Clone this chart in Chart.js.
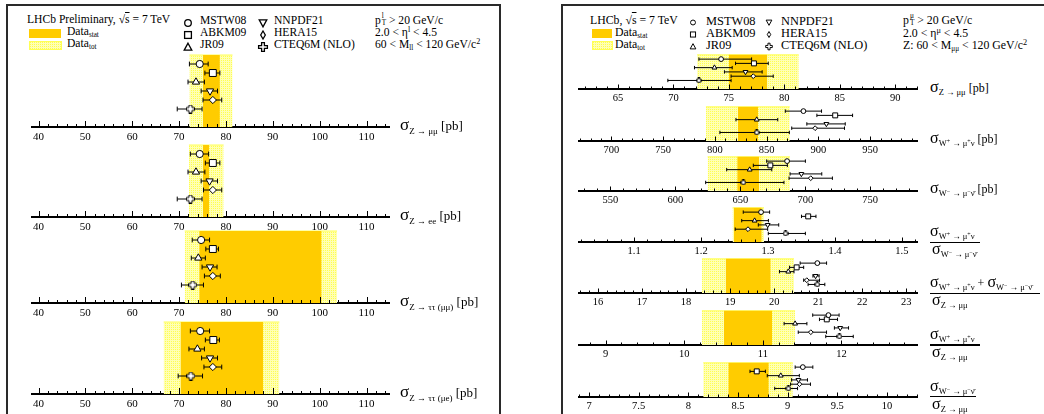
<!DOCTYPE html>
<html>
<head>
<meta charset="utf-8">
<script src="https://cdn.jsdelivr.net/npm/chart.js@4.4.1/dist/chart.umd.min.js"></script>
<style>
  body { margin: 0; background: #fff; }
  #page { position: relative; width: 1044px; height: 414px; overflow: hidden;
          font-family: "Liberation Serif", "DejaVu Serif", serif; color: #000; }
  .frame { position: absolute; box-sizing: border-box; border: 2px solid #2a2a2a; }
  .t { position: absolute; white-space: nowrap; line-height: 14px; }
  .sb { font-size: 0.62em; position: relative; top: 0.3em; }
  .sp { font-size: 0.7em; position: relative; top: -0.45em; }
  .ss { display: inline-block; position: relative; width: 0.45em; height: 1em; }
  .ss .u { position: absolute; left: 1px; top: -0.35em; font-size: 0.62em; }
  .ss .d { position: absolute; left: 1px; top: 0.55em; font-size: 0.62em; }
  .ov { text-decoration: overline; }
  .box { position: absolute; }
  .mk { position: absolute; }
  .lab { position: absolute; white-space: nowrap; }
  .lab.L { font-size: 13px; line-height: 18px; }
  .lab.L .sg { font-size: 17px; }
  .lab.L .sb { font-size: 9px; top: 4px; }
  .lab.R { font-size: 12px; line-height: 16px; }
  .lab.R .sg { font-size: 16px; }
  .lab .sb { font-size: 8.5px; position: relative; top: 3px; }
  .lab .sb .sp { font-size: 6px; top: -3px; }
  .fl { position: absolute; height: 1.5px; background: #000; }
</style>
</head>
<body>
<div id="page">
  <div class="frame" style="left:6px;top:4px;width:495px;height:500px"></div>
  <div class="frame" style="left:561px;top:4px;width:600px;height:500px"></div>

  <!-- left header -->
  <div class="t" style="left:27px;top:13px;font-size:11.6px">LHCb Preliminary, √<span class="ov">s</span> = 7 TeV</div>
  <div class="box" style="left:29px;top:29px;width:32px;height:9px;background:#ffcc00"></div>
  <div class="box" id="totL" style="left:29px;top:41px;width:31px;height:7px;border:1px solid #ffff55"></div>
  <div class="t" style="left:67px;top:25px;font-size:11.6px">Data<span class="sb">stat</span></div>
  <div class="t" style="left:67px;top:37px;font-size:11.6px">Data<span class="sb">tot</span></div>
  <div class="t" style="left:200px;top:14px;font-size:11.6px">MSTW08</div>
  <div class="t" style="left:200px;top:26px;font-size:11.6px">ABKM09</div>
  <div class="t" style="left:200px;top:38px;font-size:11.6px">JR09</div>
  <div class="t" style="left:274px;top:14px;font-size:11.6px">NNPDF21</div>
  <div class="t" style="left:274px;top:26px;font-size:11.6px">HERA15</div>
  <div class="t" style="left:274px;top:38px;font-size:11.6px">CTEQ6M (NLO)</div>
  <div class="t" style="left:375px;top:12px;font-size:11.6px">p<span class="ss"><span class="u">l</span><span class="d">T</span></span> &gt; 20 GeV/c</div>
  <div class="t" style="left:375px;top:26px;font-size:11.6px">2.0 &lt; η<span class="sp">l</span> &lt; 4.5</div>
  <div class="t" style="left:375px;top:38px;font-size:11.6px">60 &lt; M<span class="sb">ll</span> &lt; 120 GeV/c<span class="sp">2</span></div>

  <!-- right header -->
  <div class="t" style="left:590px;top:13px;font-size:11.8px">LHCb, √<span class="ov">s</span> = 7 TeV</div>
  <div class="box" style="left:592px;top:29px;width:20px;height:9px;background:#ffcc00"></div>
  <div class="box" id="totR" style="left:592px;top:41px;width:19px;height:7px;border:1px solid #ffff55"></div>
  <div class="t" style="left:615px;top:25px;font-size:11.8px">Data<span class="sb">stat</span></div>
  <div class="t" style="left:615px;top:37px;font-size:11.8px">Data<span class="sb">tot</span></div>
  <div class="t" style="left:706px;top:14px;font-size:12.4px">MSTW08</div>
  <div class="t" style="left:706px;top:26px;font-size:12.4px">ABKM09</div>
  <div class="t" style="left:706px;top:38px;font-size:12.4px">JR09</div>
  <div class="t" style="left:781px;top:14px;font-size:12.4px">NNPDF21</div>
  <div class="t" style="left:781px;top:26px;font-size:12.4px">HERA15</div>
  <div class="t" style="left:781px;top:38px;font-size:12.4px">CTEQ6M (NLO)</div>
  <div class="t" style="left:903px;top:12px;font-size:11.8px">p<span class="ss"><span class="u">μ</span><span class="d">T</span></span> &gt; 20 GeV/c</div>
  <div class="t" style="left:903px;top:26px;font-size:11.8px">2.0 &lt; η<span class="sp">μ</span> &lt; 4.5</div>
  <div class="t" style="left:903px;top:38px;font-size:11.8px">Z: 60 &lt; M<span class="sb">μμ</span> &lt; 120 GeV/c<span class="sp">2</span></div>
</div>

<script>
// models, in legend / plotting order (top to bottom)
const models = ['MSTW08', 'ABKM09', 'JR09', 'NNPDF21', 'HERA15', 'CTEQ6M (NLO)'];

// ---- left panel: sigma(Z) in four final states [pb]
const zmmVal  = [74.4, 77.2, 73.6, 76.6, 77.2, 72.4];
const zmmLo   = [72.2, 75.5, 71.9, 74.7, 75.1, 69.6];
const zmmHi   = [76.2, 78.7, 75.4, 78.2, 79.1, 74.9];
const zmmStat = [75.1, 78.7];
const zmmTot  = [72.2, 81.4];

const zeeVal  = [74.4, 77.2, 73.6, 76.5, 77.2, 72.4];
const zeeLo   = [72.4, 75.6, 71.9, 74.7, 75.2, 69.6];
const zeeHi   = [76.3, 78.7, 75.5, 78.2, 79.1, 74.9];
const zeeStat = [75.1, 76.4];
const zeeTot  = [72.1, 79.5];

const ztmVal  = [74.7, 77.2, 74.1, 76.6, 77.2, 72.9];
const ztmLo   = [72.8, 75.7, 72.6, 74.9, 75.4, 70.5];
const ztmHi   = [76.5, 78.4, 75.6, 78.1, 78.8, 75.2];
const ztmStat = [74.3, 100.4];
const ztmTot  = [71.2, 103.7];

const zteVal  = [74.5, 77.3, 73.9, 76.6, 77.2, 72.5];
const zteLo   = [72.4, 75.6, 72.1, 74.8, 75.3, 69.8];
const zteHi   = [76.5, 78.6, 75.4, 78.2, 79.1, 75.0];
const zteStat = [70.3, 87.9];
const zteTot  = [66.7, 91.4];

// ---- right panel: muon channel cross-sections and ratios
const sZVal  = [74.3, 77.26, 73.7, 76.5, 77.2, 72.3];
const sZLo   = [72.3, 75.6, 71.9, 74.6, 75.2, 69.5];
const sZHi   = [77.05, 78.55, 75.3, 78.0, 79.0, 75.2];
const sZStat = [75.0, 78.46];
const sZTot  = [72.14, 81.3];

const sWpVal  = [885.5, 916.2, 840.4, 907.7, 896.8, 840.4];
const sWpLo   = [868, 898.5, 820.3, 888.8, 874.2, 804.8];
const sWpHi   = [903, 933, 860.7, 925.9, 925.2, 871.9];
const sWpStat = [822.3, 841.6];
const sWpTot  = [791.3, 872.3];

const sWmVal  = [686.0, 673.1, 657.2, 697.0, 704.2, 652.3];
const sWmLo   = [670.3, 660.0, 639.5, 688.3, 687.5, 623.3];
const sWmHi   = [700.1, 686.2, 674.2, 712.7, 720.9, 683.6];
const sWmStat = [647.6, 664.4];
const sWmTot  = [624.8, 688.2];

const rWVal  = [1.2896, 1.360, 1.280, 1.2995, 1.2701, 1.3262];
const rWLo   = [1.263, 1.350, 1.2607, 1.2855, 1.251, 1.3004];
const rWHi   = [1.3024, 1.3716, 1.3006, 1.316, 1.2995, 1.3558];
const rWStat = [1.249, 1.2906];
const rWTot  = [1.247, 1.294];

const rWZVal  = [20.98, 20.51, 20.32, 20.94, 20.74, 20.98];
const rWZLo   = [20.59, 20.35, 20.12, 20.88, 20.67, 20.77];
const rWZHi   = [21.19, 20.67, 20.45, 21.02, 21.03, 21.15];
const rWZStat = [18.90, 19.92];
const rWZTot  = [18.36, 20.45];

const rWpZVal  = [11.834, 11.813, 11.41, 11.984, 11.61, 11.974];
const rWpZLo   = [11.634, 11.72, 11.27, 11.91, 11.45, 11.80];
const rWpZHi   = [11.97, 11.95, 11.56, 12.09, 11.81, 12.15];
const rWpZStat = [10.505, 11.117];
const rWpZTot  = [10.224, 11.41];

const rWmZVal  = [9.153, 8.689, 8.931, 9.109, 9.12, 9.008];
const rWmZLo   = [9.076, 8.621, 8.795, 9.04, 9.03, 8.87];
const rWmZHi   = [9.254, 8.776, 9.118, 9.2, 9.23, 9.10];
const rWmZStat = [8.403, 8.81];
const rWmZTot  = [8.15, 9.052];

const page = document.getElementById('page');

function dotPattern() {
  const c = document.createElement('canvas');
  c.width = c.height = 4;
  const g = c.getContext('2d');
  g.fillStyle = '#ffffb4'; g.fillRect(0, 0, 4, 4);
  g.fillStyle = '#ffff50';
  g.fillRect(0, 0, 1, 1); g.fillRect(2, 2, 1, 1); g.fillRect(2, 0, 1, 1); g.fillRect(0, 2, 1, 1);
  return c;
}
const dotCanvas = dotPattern();
const dotFill = dotCanvas.getContext('2d').createPattern(dotCanvas, 'repeat');
document.getElementById('totL').style.background = 'url(' + dotCanvas.toDataURL() + ')';
document.getElementById('totR').style.background = 'url(' + dotCanvas.toDataURL() + ')';

// open cross marker (CTEQ6M)
function crossMarker(s) {
  const c = document.createElement('canvas');
  c.width = c.height = s;
  const g = c.getContext('2d');
  const a = s / 3, b = 2 * s / 3, e = s - 0.5, o = 0.5;
  g.beginPath();
  g.moveTo(a, o); g.lineTo(b, o); g.lineTo(b, a); g.lineTo(e, a); g.lineTo(e, b); g.lineTo(b, b);
  g.lineTo(b, e); g.lineTo(a, e); g.lineTo(a, b); g.lineTo(o, b); g.lineTo(o, a); g.lineTo(a, a);
  g.closePath();
  g.fillStyle = '#fff'; g.fill();
  g.strokeStyle = '#000'; g.lineWidth = 1; g.stroke();
  return c;
}

const markRot = [0, 0, 0, 180, 0, 0];
const tickFont = "'Liberation Serif', 'Times New Roman', 'DejaVu Serif', serif";

const leftGeom = {
  x0: 29, w: 361, areaH: 77, slot: 9, labelH: 20, pad: 4, font: 11,
  majLen: 6, minLen: 3, cap: 2.4,
  styles: ['circle', 'rect', 'triangle', 'triangle', 'rectRot', crossMarker(9)],
  radius: [3.6, 4.9, 4.2, 4.2, 3.6, 4]
};
const rightGeom = {
  x0: 578, w: 340, areaH: 36, slot: 4.27, labelH: 20, pad: 3, font: 10.5,
  majLen: 4.5, minLen: 2.5, cap: 1.7,
  styles: ['circle', 'rect', 'triangle', 'triangle', 'rectRot', crossMarker(6)],
  radius: [2.4, 3.5, 2.8, 2.8, 2.4, 3]
};

const leftRows = [
  {val: zmmVal, lo: zmmLo, hi: zmmHi, stat: zmmStat, tot: zmmTot, axisY: 127, min: 38.6, max: 115, major: 10, minor: 2},
  {val: zeeVal, lo: zeeLo, hi: zeeHi, stat: zeeStat, tot: zeeTot, axisY: 217, min: 38.6, max: 115, major: 10, minor: 2},
  {val: ztmVal, lo: ztmLo, hi: ztmHi, stat: ztmStat, tot: ztmTot, axisY: 303, min: 38.6, max: 115, major: 10, minor: 2},
  {val: zteVal, lo: zteLo, hi: zteHi, stat: zteStat, tot: zteTot, axisY: 394, min: 38.6, max: 115, major: 10, minor: 2}
];
const rightRows = [
  {val: sZVal, lo: sZLo, hi: sZHi, stat: sZStat, tot: sZTot, axisY: 89, min: 61.4, max: 92.05, major: 5, minor: 1},
  {val: sWpVal, lo: sWpLo, hi: sWpHi, stat: sWpStat, tot: sWpTot, axisY: 140.7, min: 667.7, max: 996.2, major: 50, minor: 10},
  {val: sWmVal, lo: sWmLo, hi: sWmHi, stat: sWmStat, tot: sWmTot, axisY: 191, min: 525.0, max: 786.8, major: 50, minor: 10},
  {val: rWVal, lo: rWLo, hi: rWHi, stat: rWStat, tot: rWTot, axisY: 242.3, min: 1.0162, max: 1.524, major: 0.1, minor: 0.02},
  {val: rWZVal, lo: rWZLo, hi: rWZHi, stat: rWZStat, tot: rWZTot, axisY: 293.3, min: 15.545, max: 23.266, major: 1, minor: 0.2},
  {val: rWpZVal, lo: rWpZLo, hi: rWpZHi, stat: rWpZStat, tot: rWpZTot, axisY: 345, min: 8.647, max: 12.974, major: 1, minor: 0.2},
  {val: rWmZVal, lo: rWmZLo, hi: rWmZHi, stat: rWmZStat, tot: rWmZTot, axisY: 396.7, min: 6.889, max: 10.313, major: 0.5, minor: 0.1}
];

// ROOT-like ticks pointing up from the axis line
const rootTicks = {
  id: 'rootTicks',
  afterDatasetsDraw(chart, args, o) {
    const sc = chart.scales.x, ctx = chart.ctx, y0 = chart.chartArea.bottom;
    ctx.save();
    ctx.strokeStyle = '#000';
    ctx.lineWidth = 1;
    const i0 = Math.ceil(sc.min / o.minor - 1e-9), i1 = Math.floor(sc.max / o.minor + 1e-9);
    for (let i = i0; i <= i1; i++) {
      const v = i * o.minor, r = v / o.major;
      const big = Math.abs(r - Math.round(r)) < 1e-6;
      const x = Math.round(sc.getPixelForValue(v)) + 0.5;
      ctx.beginPath();
      ctx.moveTo(x, y0);
      ctx.lineTo(x, y0 - (big ? o.majLen : o.minLen));
      ctx.stroke();
    }
    ctx.restore();
  }
};

function band(range, color, edge) {
  return {
    data: [{x: range[0], y: 8}, {x: range[1], y: 8}],
    showLine: true, fill: 'origin', backgroundColor: color,
    borderColor: edge || 'rgba(0,0,0,0)', borderWidth: edge ? 1 : 0.01,
    pointRadius: 0, clip: false
  };
}

function buildRow(g, r) {
  const cv = document.createElement('canvas');
  cv.width = g.w;
  cv.height = g.areaH + g.labelH;
  cv.style.cssText = 'position:absolute;left:' + g.x0 + 'px;top:' + (r.axisY - g.areaH) + 'px';
  page.appendChild(cv);

  const ds = models.map((m, k) => ({
    label: m,
    data: [{x: r.lo[k], y: 7 - k}, {x: r.val[k], y: 7 - k}, {x: r.hi[k], y: 7 - k}],
    showLine: true, borderColor: '#000', borderWidth: 1,
    pointStyle: ['line', g.styles[k], 'line'],
    pointRotation: [90, markRot[k], 90],
    pointRadius: [g.cap, g.radius[k], g.cap],
    pointBorderWidth: 1,
    pointBorderColor: '#000',
    pointBackgroundColor: '#fff',
    clip: false
  }));
  ds.push(band(r.stat, '#ffcc00'));
  ds.push(band(r.tot, dotFill, '#ffff55'));

  new Chart(cv, {
    type: 'scatter',
    data: {datasets: ds},
    options: {
      responsive: false, animation: false, events: [],
      layout: {padding: 0, autoPadding: false},
      plugins: {
        legend: {display: false}, tooltip: {enabled: false},
        rootTicks: {major: r.major, minor: r.minor, majLen: g.majLen, minLen: g.minLen}
      },
      scales: {
        x: {
          type: 'linear', position: 'bottom', min: r.min, max: r.max,
          grid: {display: false, drawTicks: false},
          border: {display: true, color: '#000', width: 2},
          ticks: {
            stepSize: r.major, includeBounds: false, autoSkip: false, maxRotation: 0,
            padding: g.pad, color: '#000',
            font: {family: tickFont, size: g.font},
            callback: v => String(+v.toFixed(4))
          },
          afterFit: s => { s.height = g.labelH; }
        },
        y: {type: 'linear', display: false, min: 0, max: g.areaH / g.slot}
      }
    },
    plugins: [rootTicks]
  });
}

leftRows.forEach(r => buildRow(leftGeom, r));
rightRows.forEach(r => buildRow(rightGeom, r));

// legend markers in the headers
function legendMarker(cx, cy, k, s) {
  const shapes = [
    '<circle cx="6" cy="6" r="3.3"/>',
    '<rect x="2.6" y="2.6" width="6.8" height="6.8"/>',
    '<polygon points="6,2.2 9.8,9.2 2.2,9.2"/>',
    '<polygon points="2.2,2.8 9.8,2.8 6,9.8"/>',
    '<polygon points="6,2 8.3,6 6,10 3.7,6"/>',
    '<polygon points="4.6,1.6 7.4,1.6 7.4,4.6 10.4,4.6 10.4,7.4 7.4,7.4 7.4,10.4 4.6,10.4 4.6,7.4 1.6,7.4 1.6,4.6 4.6,4.6"/>'
  ];
  const d = document.createElement('div');
  d.className = 'mk';
  d.style.cssText = 'left:' + (cx - 6) + 'px;top:' + (cy - 6) + 'px;width:12px;height:12px;transform:scale(' + s + ')';
  d.innerHTML = '<svg width="12" height="12" fill="none" stroke="#000" stroke-width="1.3">' + shapes[k] + '</svg>';
  page.appendChild(d);
}
[21, 33, 45].forEach((y, i) => {
  legendMarker(188, y, i, 1); legendMarker(263, y, i + 3, 1);
  legendMarker(693, y, i, 0.75); legendMarker(769, y, i + 3, 0.75);
});

// axis titles
const wp = 'W<span class="sp">+</span> → μ<span class="sp">+</span>ν';
const wm = 'W<span class="sp">−</span> → μ<span class="sp">−</span>ν̄';
const zmm = 'Z → μμ';
function sig(sub) { return '<span class="sg">σ</span><span class="sb">' + sub + '</span>'; }
function addLab(cls, x, y, html) {
  const d = document.createElement('div');
  d.className = 'lab ' + cls;
  d.style.left = x + 'px'; d.style.top = y + 'px';
  d.innerHTML = html;
  page.appendChild(d);
}
function addFrac(y, w, num, den) {
  addLab('R', 930, y - 19, num);
  const l = document.createElement('div');
  l.className = 'fl';
  l.style.cssText = 'left:930px;top:' + (y - 0.75) + 'px;width:' + w + 'px';
  page.appendChild(l);
  addLab('R', 932, y - 1, den);
}
const leftTitles = [zmm, 'Z → ee', 'Z → ττ (μμ)', 'Z → ττ (μe)'];
leftRows.forEach((r, i) => addLab('L', 400, r.axisY - 11, sig(leftTitles[i]) + ' [pb]'));
addLab('R', 930, rightRows[0].axisY - 10, sig(zmm) + ' [pb]');
addLab('R', 930, rightRows[1].axisY - 11, sig(wp) + ' [pb]');
addLab('R', 930, rightRows[2].axisY - 11, sig(wm) + ' [pb]');
addFrac(rightRows[3].axisY, 50, sig(wp), sig(wm));
addFrac(rightRows[4].axisY, 110, sig(wp) + ' + ' + sig(wm), sig(zmm));
addFrac(rightRows[5].axisY, 50, sig(wp), sig(zmm));
addFrac(rightRows[6].axisY, 46, sig(wm), sig(zmm));
</script>
</body>
</html>
